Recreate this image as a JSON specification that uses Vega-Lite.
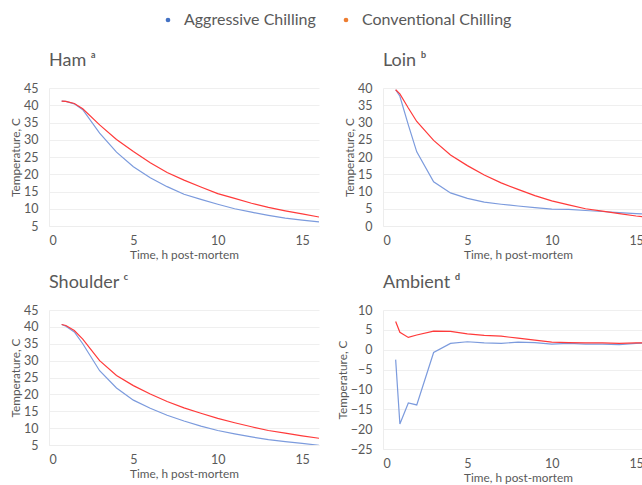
{
  "$schema": "https://vega.github.io/schema/vega-lite/v6.json",
  "padding": {"left": 10, "top": 12, "right": 0, "bottom": 0},
  "datasets": {
    "temps": [
      {"p":"Ham","s":"Aggressive Chilling","t":0.75,"v":41.2},{"p":"Ham","s":"Aggressive Chilling","t":1,"v":41.1},{"p":"Ham","s":"Aggressive Chilling","t":1.5,"v":40.4},{"p":"Ham","s":"Aggressive Chilling","t":2,"v":38.7},{"p":"Ham","s":"Aggressive Chilling","t":3,"v":31.9},{"p":"Ham","s":"Aggressive Chilling","t":4,"v":26.4},{"p":"Ham","s":"Aggressive Chilling","t":5,"v":22.2},{"p":"Ham","s":"Aggressive Chilling","t":6,"v":19.0},{"p":"Ham","s":"Aggressive Chilling","t":7,"v":16.4},{"p":"Ham","s":"Aggressive Chilling","t":8,"v":14.2},{"p":"Ham","s":"Aggressive Chilling","t":9,"v":12.7},{"p":"Ham","s":"Aggressive Chilling","t":10,"v":11.3},{"p":"Ham","s":"Aggressive Chilling","t":11,"v":10.0},{"p":"Ham","s":"Aggressive Chilling","t":12,"v":9.0},{"p":"Ham","s":"Aggressive Chilling","t":13,"v":8.1},{"p":"Ham","s":"Aggressive Chilling","t":14,"v":7.3},{"p":"Ham","s":"Aggressive Chilling","t":15,"v":6.7},{"p":"Ham","s":"Aggressive Chilling","t":16,"v":6.2},
      {"p":"Ham","s":"Conventional Chilling","t":0.75,"v":41.2},{"p":"Ham","s":"Conventional Chilling","t":1,"v":41.1},{"p":"Ham","s":"Conventional Chilling","t":1.5,"v":40.5},{"p":"Ham","s":"Conventional Chilling","t":2,"v":39.0},{"p":"Ham","s":"Conventional Chilling","t":3,"v":34.3},{"p":"Ham","s":"Conventional Chilling","t":4,"v":30.1},{"p":"Ham","s":"Conventional Chilling","t":5,"v":26.6},{"p":"Ham","s":"Conventional Chilling","t":6,"v":23.3},{"p":"Ham","s":"Conventional Chilling","t":7,"v":20.5},{"p":"Ham","s":"Conventional Chilling","t":8,"v":18.3},{"p":"Ham","s":"Conventional Chilling","t":9,"v":16.3},{"p":"Ham","s":"Conventional Chilling","t":10,"v":14.4},{"p":"Ham","s":"Conventional Chilling","t":11,"v":13.0},{"p":"Ham","s":"Conventional Chilling","t":12,"v":11.6},{"p":"Ham","s":"Conventional Chilling","t":13,"v":10.4},{"p":"Ham","s":"Conventional Chilling","t":14,"v":9.4},{"p":"Ham","s":"Conventional Chilling","t":15,"v":8.5},{"p":"Ham","s":"Conventional Chilling","t":16,"v":7.6},
      {"p":"Loin","s":"Aggressive Chilling","t":0.75,"v":39.5},{"p":"Loin","s":"Aggressive Chilling","t":1,"v":37.6},{"p":"Loin","s":"Aggressive Chilling","t":1.5,"v":29.3},{"p":"Loin","s":"Aggressive Chilling","t":2,"v":21.5},{"p":"Loin","s":"Aggressive Chilling","t":3,"v":12.8},{"p":"Loin","s":"Aggressive Chilling","t":4,"v":9.6},{"p":"Loin","s":"Aggressive Chilling","t":5,"v":8.0},{"p":"Loin","s":"Aggressive Chilling","t":6,"v":6.9},{"p":"Loin","s":"Aggressive Chilling","t":7,"v":6.3},{"p":"Loin","s":"Aggressive Chilling","t":8,"v":5.8},{"p":"Loin","s":"Aggressive Chilling","t":9,"v":5.3},{"p":"Loin","s":"Aggressive Chilling","t":10,"v":4.9},{"p":"Loin","s":"Aggressive Chilling","t":11,"v":4.8},{"p":"Loin","s":"Aggressive Chilling","t":12,"v":4.5},{"p":"Loin","s":"Aggressive Chilling","t":13,"v":4.2},{"p":"Loin","s":"Aggressive Chilling","t":14,"v":3.9},{"p":"Loin","s":"Aggressive Chilling","t":15,"v":3.6},{"p":"Loin","s":"Aggressive Chilling","t":16,"v":3.3},
      {"p":"Loin","s":"Conventional Chilling","t":0.75,"v":39.5},{"p":"Loin","s":"Conventional Chilling","t":1,"v":38.3},{"p":"Loin","s":"Conventional Chilling","t":1.5,"v":34.2},{"p":"Loin","s":"Conventional Chilling","t":2,"v":30.3},{"p":"Loin","s":"Conventional Chilling","t":3,"v":24.8},{"p":"Loin","s":"Conventional Chilling","t":4,"v":20.6},{"p":"Loin","s":"Conventional Chilling","t":5,"v":17.5},{"p":"Loin","s":"Conventional Chilling","t":6,"v":14.8},{"p":"Loin","s":"Conventional Chilling","t":7,"v":12.5},{"p":"Loin","s":"Conventional Chilling","t":8,"v":10.6},{"p":"Loin","s":"Conventional Chilling","t":9,"v":8.8},{"p":"Loin","s":"Conventional Chilling","t":10,"v":7.3},{"p":"Loin","s":"Conventional Chilling","t":11,"v":6.1},{"p":"Loin","s":"Conventional Chilling","t":12,"v":5.0},{"p":"Loin","s":"Conventional Chilling","t":13,"v":4.3},{"p":"Loin","s":"Conventional Chilling","t":14,"v":3.6},{"p":"Loin","s":"Conventional Chilling","t":15,"v":2.9},{"p":"Loin","s":"Conventional Chilling","t":16,"v":2.4},
      {"p":"Shoulder","s":"Aggressive Chilling","t":0.75,"v":40.7},{"p":"Shoulder","s":"Aggressive Chilling","t":1,"v":40.2},{"p":"Shoulder","s":"Aggressive Chilling","t":1.5,"v":38.5},{"p":"Shoulder","s":"Aggressive Chilling","t":2,"v":35.0},{"p":"Shoulder","s":"Aggressive Chilling","t":3,"v":27.0},{"p":"Shoulder","s":"Aggressive Chilling","t":4,"v":21.9},{"p":"Shoulder","s":"Aggressive Chilling","t":5,"v":18.3},{"p":"Shoulder","s":"Aggressive Chilling","t":6,"v":15.9},{"p":"Shoulder","s":"Aggressive Chilling","t":7,"v":13.8},{"p":"Shoulder","s":"Aggressive Chilling","t":8,"v":12.1},{"p":"Shoulder","s":"Aggressive Chilling","t":9,"v":10.6},{"p":"Shoulder","s":"Aggressive Chilling","t":10,"v":9.3},{"p":"Shoulder","s":"Aggressive Chilling","t":11,"v":8.3},{"p":"Shoulder","s":"Aggressive Chilling","t":12,"v":7.4},{"p":"Shoulder","s":"Aggressive Chilling","t":13,"v":6.6},{"p":"Shoulder","s":"Aggressive Chilling","t":14,"v":6.0},{"p":"Shoulder","s":"Aggressive Chilling","t":15,"v":5.5},{"p":"Shoulder","s":"Aggressive Chilling","t":16,"v":4.9},
      {"p":"Shoulder","s":"Conventional Chilling","t":0.75,"v":40.7},{"p":"Shoulder","s":"Conventional Chilling","t":1,"v":40.4},{"p":"Shoulder","s":"Conventional Chilling","t":1.5,"v":38.9},{"p":"Shoulder","s":"Conventional Chilling","t":2,"v":36.4},{"p":"Shoulder","s":"Conventional Chilling","t":3,"v":30.0},{"p":"Shoulder","s":"Conventional Chilling","t":4,"v":25.6},{"p":"Shoulder","s":"Conventional Chilling","t":5,"v":22.6},{"p":"Shoulder","s":"Conventional Chilling","t":6,"v":20.1},{"p":"Shoulder","s":"Conventional Chilling","t":7,"v":17.9},{"p":"Shoulder","s":"Conventional Chilling","t":8,"v":16.0},{"p":"Shoulder","s":"Conventional Chilling","t":9,"v":14.4},{"p":"Shoulder","s":"Conventional Chilling","t":10,"v":12.9},{"p":"Shoulder","s":"Conventional Chilling","t":11,"v":11.6},{"p":"Shoulder","s":"Conventional Chilling","t":12,"v":10.4},{"p":"Shoulder","s":"Conventional Chilling","t":13,"v":9.3},{"p":"Shoulder","s":"Conventional Chilling","t":14,"v":8.5},{"p":"Shoulder","s":"Conventional Chilling","t":15,"v":7.7},{"p":"Shoulder","s":"Conventional Chilling","t":16,"v":7.0},
      {"p":"Ambient","s":"Aggressive Chilling","t":0.75,"v":-2.5},{"p":"Ambient","s":"Aggressive Chilling","t":1,"v":-18.7},{"p":"Ambient","s":"Aggressive Chilling","t":1.5,"v":-13.4},{"p":"Ambient","s":"Aggressive Chilling","t":2,"v":-13.9},{"p":"Ambient","s":"Aggressive Chilling","t":3,"v":-0.7},{"p":"Ambient","s":"Aggressive Chilling","t":4,"v":1.6},{"p":"Ambient","s":"Aggressive Chilling","t":5,"v":2.0},{"p":"Ambient","s":"Aggressive Chilling","t":6,"v":1.7},{"p":"Ambient","s":"Aggressive Chilling","t":7,"v":1.6},{"p":"Ambient","s":"Aggressive Chilling","t":8,"v":1.9},{"p":"Ambient","s":"Aggressive Chilling","t":9,"v":1.8},{"p":"Ambient","s":"Aggressive Chilling","t":10,"v":1.4},{"p":"Ambient","s":"Aggressive Chilling","t":11,"v":1.6},{"p":"Ambient","s":"Aggressive Chilling","t":12,"v":1.4},{"p":"Ambient","s":"Aggressive Chilling","t":13,"v":1.4},{"p":"Ambient","s":"Aggressive Chilling","t":14,"v":1.3},{"p":"Ambient","s":"Aggressive Chilling","t":15,"v":1.6},{"p":"Ambient","s":"Aggressive Chilling","t":16,"v":1.7},
      {"p":"Ambient","s":"Conventional Chilling","t":0.75,"v":7.1},{"p":"Ambient","s":"Conventional Chilling","t":1,"v":4.4},{"p":"Ambient","s":"Conventional Chilling","t":1.5,"v":3.1},{"p":"Ambient","s":"Conventional Chilling","t":2,"v":3.7},{"p":"Ambient","s":"Conventional Chilling","t":3,"v":4.7},{"p":"Ambient","s":"Conventional Chilling","t":4,"v":4.6},{"p":"Ambient","s":"Conventional Chilling","t":5,"v":4.0},{"p":"Ambient","s":"Conventional Chilling","t":6,"v":3.6},{"p":"Ambient","s":"Conventional Chilling","t":7,"v":3.4},{"p":"Ambient","s":"Conventional Chilling","t":8,"v":2.9},{"p":"Ambient","s":"Conventional Chilling","t":9,"v":2.4},{"p":"Ambient","s":"Conventional Chilling","t":10,"v":1.9},{"p":"Ambient","s":"Conventional Chilling","t":11,"v":1.8},{"p":"Ambient","s":"Conventional Chilling","t":12,"v":1.7},{"p":"Ambient","s":"Conventional Chilling","t":13,"v":1.7},{"p":"Ambient","s":"Conventional Chilling","t":14,"v":1.6},{"p":"Ambient","s":"Conventional Chilling","t":15,"v":1.7},{"p":"Ambient","s":"Conventional Chilling","t":16,"v":1.8}
    ]
  },
  "data": {"name": "temps"},
  "columns": 2,
  "spacing": {"row": 12, "column": 18},
  "concat": [
    {
      "title": {"text": "Ham ᵃ"},
      "width": 270, "height": 138,
      "transform": [{"filter": "datum.p == 'Ham'"}],
      "mark": {"type": "line", "strokeWidth": 1.2, "clip": true},
      "encoding": {
        "x": {"field": "t", "type": "quantitative", "scale": {"domain": [0, 16], "nice": false}, "axis": {"values": [0, 5, 10, 15], "title": "Time, h post-mortem"}},
        "y": {"field": "v", "type": "quantitative", "scale": {"domain": [5, 45], "nice": false, "zero": false}, "axis": {"values": [5, 10, 15, 20, 25, 30, 35, 40, 45], "title": "Temperature, C"}},
        "color": {"field": "s", "type": "nominal", "scale": {"domain": ["Aggressive Chilling", "Conventional Chilling"], "range": ["#7C9BDD", "#FF3A3A"]},
          "legend": {"title": null, "orient": "none", "legendX": 111, "legendY": -76, "direction": "horizontal", "symbolType": "circle", "symbolSize": 22, "columnPadding": 22, "labelOffset": 8,
            "encode": {"symbols": {"update": {"fill": {"signal": "datum.value == 'Aggressive Chilling' ? '#4472C4' : '#ED7D31'"}, "strokeWidth": {"value": 0}}}}}}
      }
    },
    {
      "title": {"text": "Loin ᵇ"},
      "width": 270, "height": 138,
      "transform": [{"filter": "datum.p == 'Loin'"}],
      "mark": {"type": "line", "strokeWidth": 1.2, "clip": true},
      "encoding": {
        "x": {"field": "t", "type": "quantitative", "scale": {"domain": [0, 16], "nice": false}, "axis": {"values": [0, 5, 10, 15], "title": "Time, h post-mortem"}},
        "y": {"field": "v", "type": "quantitative", "scale": {"domain": [0, 40], "nice": false}, "axis": {"values": [0, 5, 10, 15, 20, 25, 30, 35, 40], "title": "Temperature, C"}},
        "color": {"field": "s", "type": "nominal"}
      }
    },
    {
      "title": {"text": "Shoulder ᶜ"},
      "width": 270, "height": 135,
      "transform": [{"filter": "datum.p == 'Shoulder'"}],
      "mark": {"type": "line", "strokeWidth": 1.2, "clip": true},
      "encoding": {
        "x": {"field": "t", "type": "quantitative", "scale": {"domain": [0, 16], "nice": false}, "axis": {"values": [0, 5, 10, 15], "title": "Time, h post-mortem"}},
        "y": {"field": "v", "type": "quantitative", "scale": {"domain": [5, 45], "nice": false, "zero": false}, "axis": {"values": [5, 10, 15, 20, 25, 30, 35, 40, 45], "title": "Temperature, C"}},
        "color": {"field": "s", "type": "nominal"}
      }
    },
    {
      "title": {"text": "Ambient ᵈ"},
      "width": 270, "height": 139,
      "transform": [{"filter": "datum.p == 'Ambient'"}],
      "mark": {"type": "line", "strokeWidth": 1.2, "clip": true},
      "encoding": {
        "x": {"field": "t", "type": "quantitative", "scale": {"domain": [0, 16], "nice": false}, "axis": {"values": [0, 5, 10, 15], "title": "Time, h post-mortem"}},
        "y": {"field": "v", "type": "quantitative", "scale": {"domain": [-25, 10], "nice": false}, "axis": {"values": [-25, -20, -15, -10, -5, 0, 5, 10], "title": "Temperature, C"}},
        "color": {"field": "s", "type": "nominal"}
      }
    }
  ],
  "resolve": {"scale": {"color": "shared", "x": "independent", "y": "independent"}},
  "config": {
    "font": "Lato",
    "view": {"stroke": null},
    "axis": {"labelFont": "Lato", "labelFontSize": 12.5, "labelColor": "#595959", "titleFont": "Lato", "titleFontSize": 11.8, "titleFontWeight": "normal", "titleColor": "#595959", "ticks": false, "tickSize": 0, "domainColor": "#EDEDED", "gridColor": "#EFEFEF"},
    "axisX": {"grid": false, "labelPadding": 8, "titlePadding": 3},
    "axisY": {"grid": true, "labelPadding": 11, "titlePadding": 2},
    "title": {"font": "Lato", "fontSize": 18, "fontWeight": "normal", "color": "#595959", "anchor": "start", "frame": "group", "offset": 12},
    "legend": {"labelFont": "Lato", "labelFontSize": 16, "labelColor": "#595959"}
  }
}
